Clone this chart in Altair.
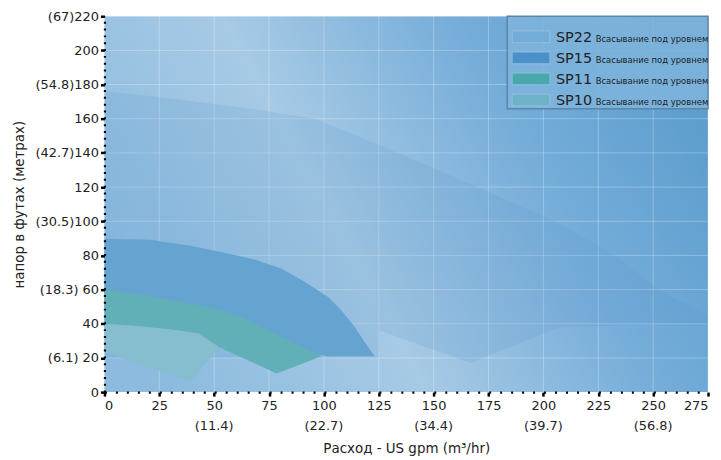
import altair as alt
import pandas as pd

# ---------------- data ----------------
gpm_ticks = list(range(0, 276, 25))
head_ticks = list(range(0, 221, 20))
metric_x_vals = [50, 100, 150, 200, 250]
metric_x_labels = ["(11.4)", "(22.7)", "(34.4)", "(39.7)", "(56.8)"]
metric_y_vals = [220, 180, 140, 100, 60, 20]
metric_y_labels = ["(67)", "(54.8)", "(42.7)", "(30.5)", "(18.3)", "(6.1)"]

series_names = ["SP22", "SP15", "SP11", "SP10"]
series_desc = "Всасывание под уровнем"

sp22_gpm = [0, 23, 66, 96, 114, 125, 125.5, 134, 167, 170, 205, 207, 233, 252, 275]
sp22_top = [176, 173, 166, 160, 150.5, 144.7, 144.5, 140, 121.7, 120, 100, 99, 80, 60, 45]
sp22_bot = [20, 20, 20, 20, 20, 20, 36, 32, 17, 18.6, 37, 38, 39, 40, 40]

sp15_gpm = [0, 20.4, 38.5, 53.6, 68.7, 80.8, 91.4, 101.9, 108, 114, 118.5, 123.1]
sp15_top = [89.7, 89.1, 85.8, 81.9, 77.4, 72.2, 64.4, 55.6, 47.8, 38.1, 29.4, 21]
sp15_bot = [50, 50, 48, 46, 38, 28, 23, 21, 21, 21, 21, 21]

sp11_gpm = [0, 15.9, 31, 43, 52.1, 53.6, 65.7, 76.3, 78.5, 86.8, 98.9]
sp11_top = [59.9, 57.2, 53.7, 50.8, 48.3, 47.8, 42, 35.2, 33.8, 28.4, 21]
sp11_bot = [40, 38.5, 36.5, 34.2, 26.4, 25.5, 18.4, 12.2, 10.9, 15.0, 21]

sp10_gpm = [0, 15.9, 31, 39.3, 43, 52.1]
sp10_top = [40, 38.5, 36.5, 35, 34.2, 26.4]
sp10_bot = [23.5, 16.4, 9.7, 6, 11.9, 26.4]

curves = {
    "SP22": (sp22_gpm, sp22_top, sp22_bot),
    "SP15": (sp15_gpm, sp15_top, sp15_bot),
    "SP11": (sp11_gpm, sp11_top, sp11_bot),
    "SP10": (sp10_gpm, sp10_top, sp10_bot),
}

legend_colors = ["#74acd8", "#4b90c8", "#48a8ad", "#6db2c6"]
region_colors = {"SP22": "#5a97cc", "SP15": "#65a3d1", "SP11": "#62b0b7", "SP10": "#86bdcf"}
region_opacity = {"SP22": 0.17, "SP15": 1, "SP11": 1, "SP10": 1}

# ---------------- layout ----------------
W, H = 607, 378
FONT = "DejaVu Sans"
TXT = "#222222"

xscale = alt.Scale(domain=[0, 275], nice=False, zero=True)
yscale = alt.Scale(domain=[0, 220], nice=False, zero=True)
cscale = alt.Scale(domain=series_names, range=legend_colors)

ylab_map = {v: l for v, l in zip(metric_y_vals, metric_y_labels)}
expr = "datum.label"
for v in head_ticks:
    if v in ylab_map:
        sep = "" if v >= 100 else " "
        expr = f"datum.value == {v} ? '{ylab_map[v]}{sep}{v}' : ({expr})"

x_enc = alt.X(
    "gpm:Q", scale=xscale,
    axis=alt.Axis(
        values=gpm_ticks, title="Расход - US gpm (m³/hr)", titlePadding=30,
        tickSize=4, tickWidth=2.5, labelPadding=3, labelFlush=True,
        domainDash=[2, 9.04], domainWidth=2.2, grid=False, zindex=1,
    ),
)
y_enc = alt.Y(
    "top:Q", scale=yscale,
    axis=alt.Axis(
        values=head_ticks, labelExpr=expr, title="напор в футах (метрах)",
        titlePadding=9, tickSize=4, tickWidth=2.5, labelPadding=2,
        domainDash=[2, 4.87], domainWidth=2.2, grid=False, zindex=1,
    ),
)

bg = alt.Chart(pd.DataFrame({"a": [0]})).mark_rect(
    color=alt.Gradient(
        gradient="linear",
        stops=[
            alt.GradientStop(color="#8cbbdf", offset=0),
            alt.GradientStop(color="#a7cae5", offset=0.38),
            alt.GradientStop(color="#76add9", offset=0.72),
            alt.GradientStop(color="#5d9ecf", offset=1),
        ],
        x1=0, y1=0.67, x2=1, y2=0.33,
    )
).encode(x=alt.value(0), x2=alt.value(W), y=alt.value(0), y2=alt.value(H))

# faint grid drawn beneath the regions
gx = alt.Chart(pd.DataFrame({"gpm": gpm_ticks[1:]})).mark_rule(
    color="white", opacity=0.28, strokeWidth=1
).encode(x=x_enc)
gy = alt.Chart(pd.DataFrame({"top": head_ticks[1:]})).mark_rule(
    color="white", opacity=0.28, strokeWidth=1
).encode(y=y_enc)

layers = [bg, gx, gy]
for name in series_names:
    g, t, b = curves[name]
    df = pd.DataFrame({"gpm": g, "top": t, "bottom": b})
    layers.append(
        alt.Chart(df).mark_area(
            color=region_colors[name], fillOpacity=region_opacity[name],
            strokeWidth=0, interpolate="linear",
        ).encode(x=x_enc, y=y_enc, y2="bottom:Q")
    )

mx = pd.DataFrame({"gpm": metric_x_vals, "lab": metric_x_labels, "top": 0})
layers.append(
    alt.Chart(mx).mark_text(font=FONT, fontSize=13, color=TXT, baseline="middle").encode(
        x=x_enc, y=alt.value(H + 34), text="lab:N"
    )
)
main = alt.layer(*layers)

# legend
ldf = pd.DataFrame({"series": series_names, "desc": series_desc})
lscale = alt.Scale(type="point", domain=series_names, range=[20.7, 84.3], padding=0)
ly = alt.Y("series:N", scale=lscale, axis=None)
box = alt.Chart(pd.DataFrame({"a": [0]})).mark_rect(
    fill="#7db3dc", fillOpacity=0.92, stroke="#5e84a6", strokeWidth=1.5
).encode(x=alt.value(405), x2=alt.value(W), y=alt.value(0), y2=alt.value(93))
sw = alt.Chart(ldf).mark_point(
    shape="M-1,-0.31H1V0.31H-1Z", size=38 * 38, filled=True, opacity=1,
    stroke="#9cc3e0", strokeWidth=0.8,
).encode(x=alt.value(429), y=ly,
         color=alt.Color("series:N", scale=cscale, legend=None))
big = alt.Chart(ldf).mark_text(
    font=FONT, fontSize=14.5, color=TXT, align="left", baseline="alphabetic", dy=5.3
).encode(x=alt.value(454), y=ly, text="series:N")
small = alt.Chart(ldf).mark_text(
    font=FONT, fontSize=8.5, color=TXT, align="left", baseline="alphabetic", dy=5.3
).encode(x=alt.value(494), y=ly, text="desc:N")
legend = alt.layer(box, sw, big, small)

chart = alt.layer(main, legend).resolve_scale(y="independent").properties(
    width=W, height=H,
    padding={"left": 97, "top": 7, "right": 5, "bottom": 66},
    autosize=alt.AutoSizeParams(type="none"),
).configure_view(stroke=None).configure_axis(
    labelFont=FONT, labelFontSize=13, labelColor=TXT,
    titleFont=FONT, titleFontSize=13.5, titleColor=TXT, titleFontWeight="normal",
    tickColor="black", domainColor="black",
)

chart.save("out.html", embed_options={"renderer": "svg", "actions": False})
